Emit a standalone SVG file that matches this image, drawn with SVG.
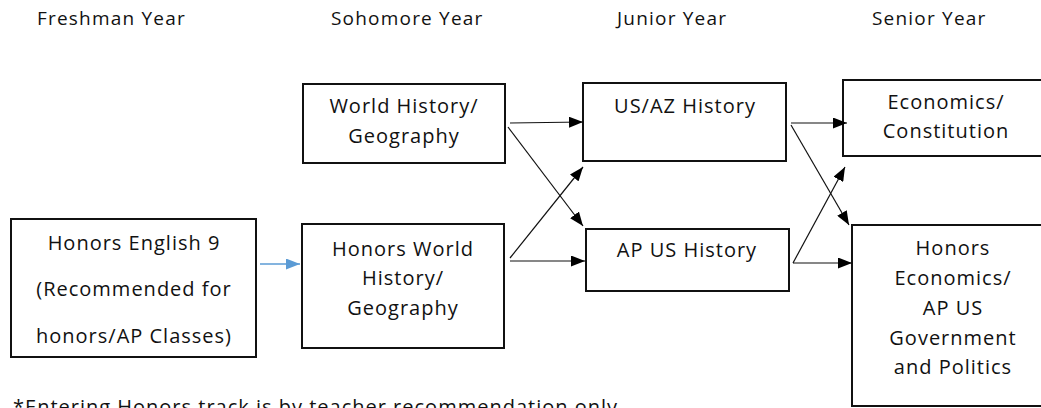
<svg xmlns="http://www.w3.org/2000/svg" width="1041" height="408" viewBox="0 0 1041 408">
  <defs>
    <marker id="ah" markerUnits="userSpaceOnUse" markerWidth="14" markerHeight="11" refX="14" refY="5.5" orient="auto">
      <path d="M0,0 L14,5.5 L0,11 z" fill="#000"/>
    </marker>
    <marker id="ahb" markerUnits="userSpaceOnUse" markerWidth="14" markerHeight="11" refX="14" refY="5.5" orient="auto">
      <path d="M0,0 L14,5.5 L0,11 z" fill="#5B9BD5"/>
    </marker>
    <style>
      .hdr { font-family: "Open Sans", "Liberation Sans", sans-serif; font-size: 19px; letter-spacing: 1.2px; fill: #111; }
      .box { fill: #fff; stroke: #111; stroke-width: 2; }
      .lbl { font-family: "Open Sans", "Liberation Sans", sans-serif; font-size: 20px; letter-spacing: 1px; fill: #111; text-anchor: middle; }
      .con { stroke: #111; stroke-width: 1.2; fill: none; marker-end: url(#ah); }
      .conb { stroke: #5B9BD5; stroke-width: 1.4; fill: none; marker-end: url(#ahb); }
    </style>
  </defs>
  <rect width="1041" height="408" fill="#fff"/>

  <g id="headers">
    <text class="hdr" x="37" y="25">Freshman Year</text>
    <text class="hdr" x="331" y="25">Sohomore Year</text>
    <text class="hdr" x="617" y="25">Junior Year</text>
    <text class="hdr" x="872" y="25">Senior Year</text>
  </g>

  <g id="honors-english">
    <rect class="box" x="11" y="219" width="245" height="138"/>
    <text class="lbl" x="134" y="250">Honors English 9</text>
    <text class="lbl" x="134" y="296">(Recommended for</text>
    <text class="lbl" x="134" y="343">honors/AP Classes)</text>
  </g>

  <g id="world-history">
    <rect class="box" x="303" y="84" width="202" height="79"/>
    <text class="lbl" x="404" y="113">World History/</text>
    <text class="lbl" x="404" y="143">Geography</text>
  </g>

  <g id="honors-world-history">
    <rect class="box" x="302" y="224" width="202" height="124"/>
    <text class="lbl" x="403" y="256">Honors World</text>
    <text class="lbl" x="403" y="285">History/</text>
    <text class="lbl" x="403" y="315">Geography</text>
  </g>

  <g id="us-az-history">
    <rect class="box" x="583" y="83" width="203" height="78"/>
    <text class="lbl" x="685" y="113">US/AZ History</text>
  </g>

  <g id="ap-us-history">
    <rect class="box" x="586" y="229" width="203" height="62"/>
    <text class="lbl" x="687" y="257">AP US History</text>
  </g>

  <g id="economics">
    <rect class="box" x="843" y="80" width="205" height="76"/>
    <text class="lbl" x="946" y="109">Economics/</text>
    <text class="lbl" x="946" y="138">Constitution</text>
  </g>

  <g id="honors-economics">
    <rect class="box" x="852" y="225" width="200" height="181"/>
    <text class="lbl" x="953" y="255">Honors</text>
    <text class="lbl" x="953" y="285">Economics/</text>
    <text class="lbl" x="953" y="315">AP US</text>
    <text class="lbl" x="953" y="345">Government</text>
    <text class="lbl" x="953" y="374">and Politics</text>
  </g>

  <g id="connectors">
    <line class="conb" x1="260" y1="264" x2="300" y2="264"/>
    <line class="con" x1="510" y1="123" x2="583" y2="122"/>
    <line class="con" x1="508" y1="127" x2="583" y2="226"/>
    <line class="con" x1="510" y1="258" x2="583" y2="167"/>
    <line class="con" x1="510" y1="261" x2="585" y2="261"/>
    <line class="con" x1="791" y1="123" x2="847" y2="123"/>
    <line class="con" x1="791" y1="125" x2="849" y2="225"/>
    <line class="con" x1="793" y1="263" x2="845" y2="167"/>
    <line class="con" x1="793" y1="263" x2="852" y2="263"/>
  </g>

  <g id="footnote">
    <text class="lbl" style="text-anchor:start" x="13" y="414">*Entering Honors track is by teacher recommendation only</text>
  </g>
</svg>
